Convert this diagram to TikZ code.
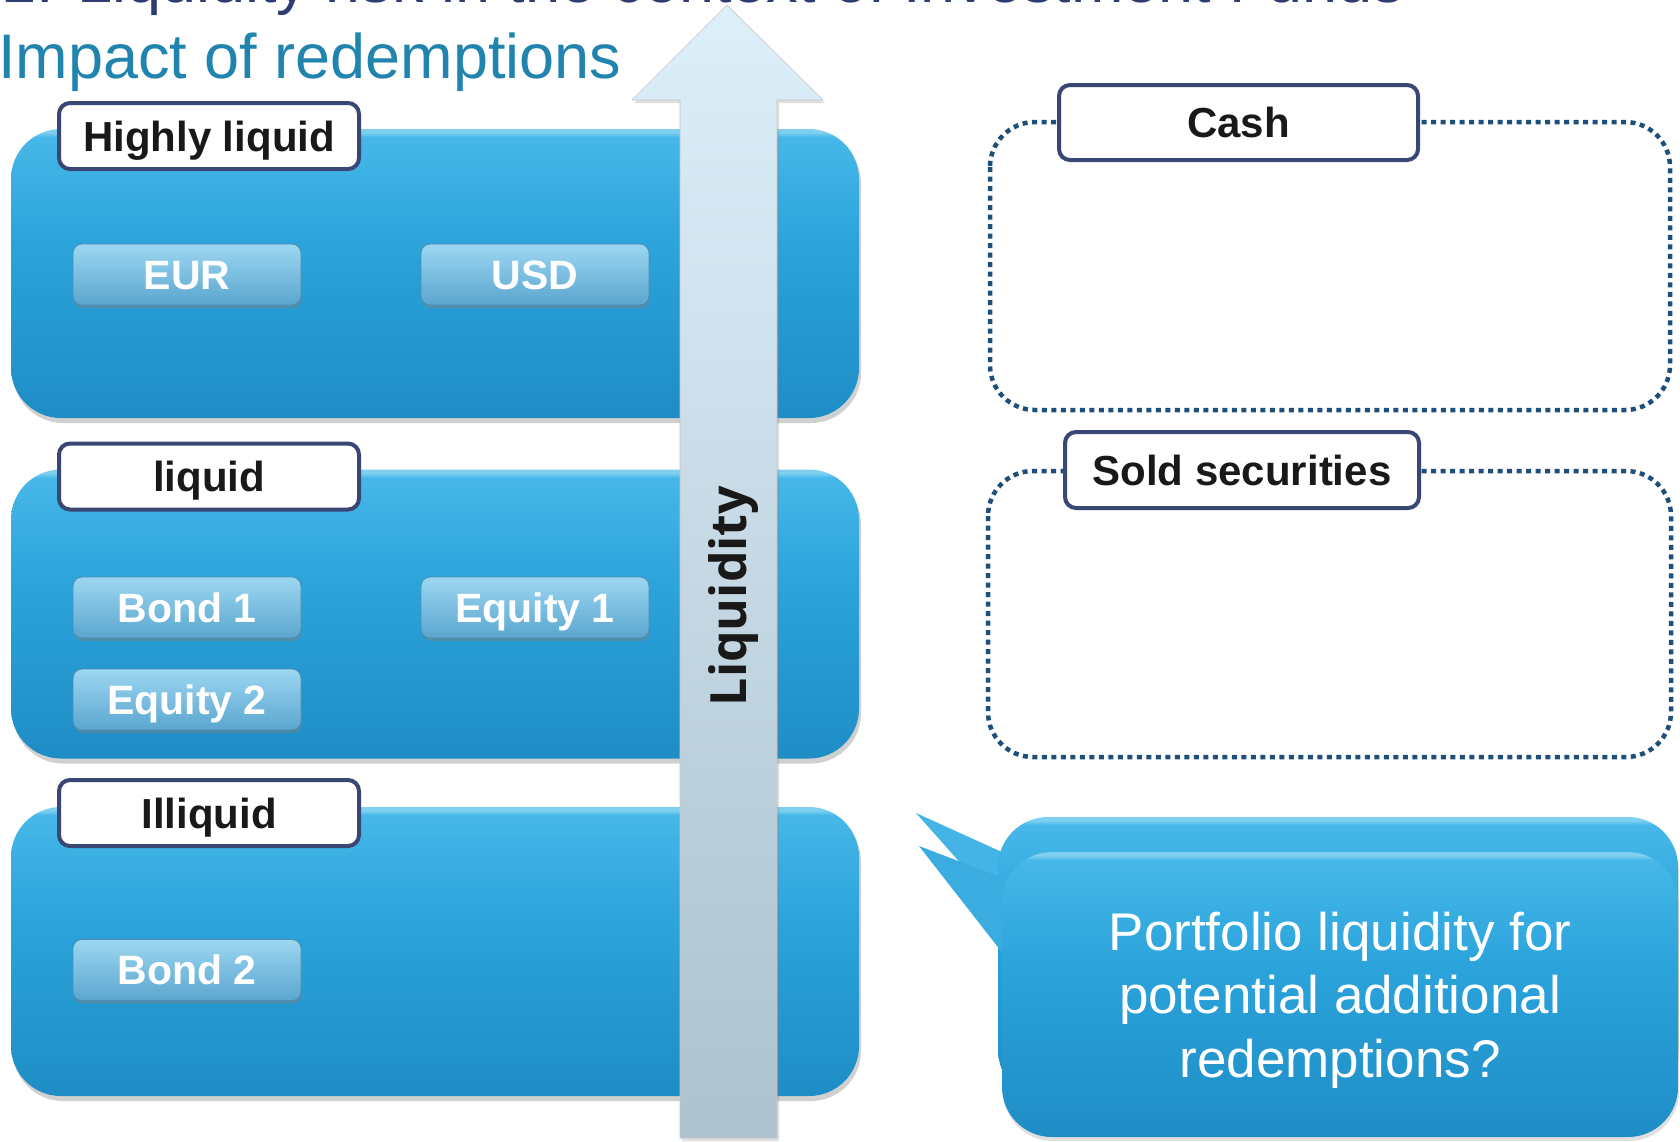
\documentclass[tikz,border=0pt]{standalone}
\usepackage{fontspec}
\setmainfont{Liberation Sans}
\newfontfamily\liqfont{Open Sans}
\usetikzlibrary{shadows}

\definecolor{titlenavy}{HTML}{2E3C72}
\definecolor{titleteal}{HTML}{2184AE}
\definecolor{paneltop}{HTML}{46B7E8}
\definecolor{panelmid}{HTML}{2BA3DB}
\definecolor{panelbot}{HTML}{1F8DC5}
\definecolor{panelrim}{HTML}{7FD0F0}
\definecolor{labelrim}{HTML}{3A4775}
\definecolor{dotblue}{HTML}{1D4F7C}
\definecolor{btntop}{HTML}{9CD6F1}
\definecolor{btnbot}{HTML}{5BA6CF}
\definecolor{arrowtop}{HTML}{DDEFF9}
\definecolor{arrowbot}{HTML}{ADC1CF}
\definecolor{tailA}{HTML}{44B3E5}
\definecolor{tailB}{HTML}{3AACDF}

% blue gradient with a thin light rim along the top edge
\pgfdeclareverticalshading{tiershade}{100bp}{%
  color(0bp)=(panelbot); color(25bp)=(panelbot); color(55bp)=(panelmid);
  color(73.6bp)=(paneltop); color(74.4bp)=(panelrim); color(100bp)=(panelrim)}

\begin{document}
\begin{tikzpicture}[x=1pt,y=-1pt,
  panel/.style={rounded corners=50pt, shading=tiershade,
    minimum width=848pt, minimum height=289pt, inner sep=0pt,
    drop shadow={shadow xshift=2pt, shadow yshift=-5pt, opacity=0.3, fill=black!60}},
  tagbox/.style={draw=labelrim, line width=4pt, fill=white, rounded corners=11pt,
    minimum width=300pt, minimum height=66pt, inner sep=0pt, text=black!90,
    text height=30pt, text depth=0pt,
    font=\bfseries\fontsize{42}{48}\selectfont},
  asset/.style={rounded corners=9pt, top color=btntop, bottom color=btnbot,
    draw=btnbot!85!black, line width=0.8pt, minimum width=228pt, minimum height=61pt,
    inner sep=0pt, text=white, text height=29.5pt, text depth=0pt,
    font=\bfseries\fontsize{41}{46}\selectfont,
    drop shadow={shadow xshift=1pt, shadow yshift=-3pt, opacity=0.45}},
  dotframe/.style={draw=dotblue, line width=4.5pt, dash pattern=on 5pt off 4.5pt,
    rounded corners=45pt},
  bubble/.style={rounded corners=50pt, shading=tiershade},
]
\useasboundingbox (0,0) rectangle (1680,1141);
\clip (0,0) rectangle (1680,1141);
\fill[white] (0,0) rectangle (1680,1141);

% heading lines
\node[anchor=base west, inner sep=0pt, text=titlenavy, font=\fontsize{63}{70}\selectfont]
  (heading) at (1,2) {1. Liquidity risk in the context of Investment Funds};
\node[anchor=base west, inner sep=0pt, text=titleteal, font=\fontsize{63}{70}\selectfont]
  (subheading) at (-2,78) {Impact of redemptions};

% liquidity tiers
\node[panel] (tierHigh) at (435,273.5) {};
\node[panel] (tierMid)  at (435,614) {};
\node[panel] (tierLow)  at (435,951.5) {};

% assets in each tier
\node[asset] (eur)     at (187,274.5) {EUR};
\node[asset] (usd)     at (535,274.5) {USD};
\node[asset] (bondA)   at (187,607.5) {Bond 1};
\node[asset] (equityA) at (535,607.5) {Equity 1};
\node[asset] (equityB) at (187,699.5) {Equity 2};
\node[asset] (bondB)   at (187,970)   {Bond 2};

% tier captions
\node[tagbox] (tagHigh) at (209,136)   {Highly liquid};
\node[tagbox] (tagMid)  at (209,476.5) {liquid};
\node[tagbox] (tagLow)  at (209,813)   {Illiquid};

% liquidity arrow
\path[top color=arrowtop, bottom color=arrowbot, draw=black!22, line width=0.6pt,
  drop shadow={shadow xshift=2pt, shadow yshift=-3pt, opacity=0.25}]
  (727,5) -- (823,100) -- (777,100) -- (777,1138) -- (680,1138) -- (680,100)
  -- (632,100) -- cycle;
\node[rotate=90, inner sep=0pt, text=black!90, font=\liqfont\bfseries\fontsize{50}{56}\selectfont]
  (liq) at (734,596) {Liquidity};

% cash and sold securities frames
\draw[dotframe] (990,122) rectangle (1670,410);
\node[tagbox, minimum width=359pt, minimum height=75pt] (cash) at (1238.5,122.5) {Cash};
\draw[dotframe] (988,471) rectangle (1671,757);
\node[tagbox, minimum width=354pt, minimum height=76pt] (sold) at (1242,470) {Sold securities};

% speech bubble
\fill[tailA] (1004,853) -- (916,813) -- (1004,912) -- cycle;
\path[bubble, drop shadow={shadow xshift=1pt, shadow yshift=-3pt, opacity=0.2}]
  (998,817) rectangle (1678,1100);
\fill[tailB] (1008,880) -- (919,846) -- (1008,960) -- cycle;
\path[bubble, drop shadow={shadow xshift=1pt, shadow yshift=-4pt, opacity=0.25}]
  (1002,852) rectangle (1678,1137);
\node[text=white, align=center, inner sep=0pt, font=\fontsize{53}{63.5}\selectfont]
  (question) at (1340,1000) {Portfolio liquidity for\\potential additional\\redemptions?};
\end{tikzpicture}
\end{document}
